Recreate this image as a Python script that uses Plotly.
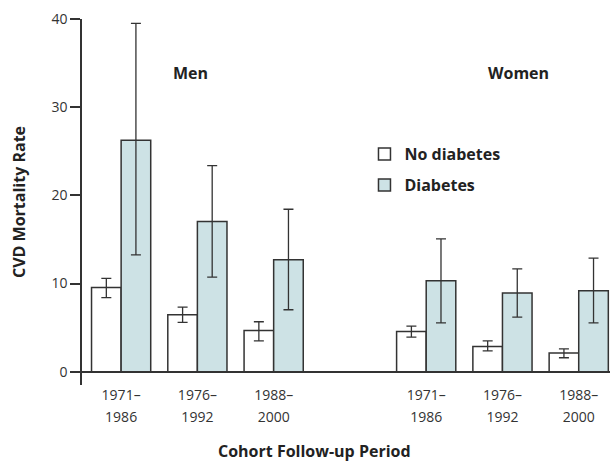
import plotly.graph_objects as go

# ---- data ----
categories = ["Men 1971", "Men 1976", "Men 1988", " ", "Women 1971", "Women 1976", "Women 1988"]
bar_categories = ["Men 1971", "Men 1976", "Men 1988", "Women 1971", "Women 1976", "Women 1988"]
tick_line1 = ["1971–", "1976–", "1988–", "", "1971–", "1976–", "1988–"]
tick_line2 = ["1986", "1992", "2000", "", "1986", "1992", "2000"]

no_diab = [9.55, 6.46, 4.68, 4.57, 2.87, 2.12]
no_diab_hi = [10.6, 7.33, 5.67, 5.18, 3.51, 2.60]
no_diab_lo = [8.4, 5.59, 3.51, 3.93, 2.38, 1.59]

diab = [26.25, 17.03, 12.69, 10.31, 8.92, 9.18]
diab_hi = [39.5, 23.38, 18.43, 15.07, 11.67, 12.88]
diab_lo = [13.26, 10.73, 7.03, 5.55, 6.20, 5.55]

y_ticks = [0, 10, 20, 30, 40]

INK = "#333333"
FONT = "Open Sans"
BOLD = dict(family=FONT, size=16, color="#222222", weight="bold")

def err(v, hi, lo):
    return dict(type="data", symmetric=False,
                array=[h - x for h, x in zip(hi, v)],
                arrayminus=[x - l for l, x in zip(lo, v)],
                color=INK, thickness=1.3, width=5)

fig = go.Figure()
fig.add_trace(go.Bar(
    x=bar_categories, y=no_diab, name="No diabetes", legendgroup="a",
    marker=dict(color="white", line=dict(color=INK, width=1.5)),
    error_y=err(no_diab, no_diab_hi, no_diab_lo)))
fig.add_trace(go.Bar(
    x=bar_categories, y=diab, name="Diabetes", legendgroup="b",
    marker=dict(color="#cde2e5", line=dict(color=INK, width=1.5)),
    error_y=err(diab, diab_hi, diab_lo)))
# helper invisible trace to carry the second line of tick labels
fig.add_trace(go.Scatter(x=categories, y=[0] * len(categories), xaxis="x2",
                         mode="markers", marker=dict(opacity=0),
                         showlegend=False, hoverinfo="skip"))

fig.update_layout(
    width=610, height=461,
    margin=dict(l=82, r=0, t=19, b=76),
    paper_bgcolor="white", plot_bgcolor="white",
    barmode="group", bargap=0.224, bargroupgap=0,
    font=dict(family=FONT, size=14, color=INK),
    showlegend=True,
    legend=dict(x=0.535, y=0.677, xanchor="left", yanchor="top",
                traceorder="grouped", tracegroupgap=7,
                font=BOLD, bgcolor="rgba(0,0,0,0)", itemwidth=30),
    xaxis=dict(type="category", categoryorder="array", categoryarray=categories,
               range=[-0.513, 6.41], showline=False, ticks="", showgrid=False,
               zeroline=False, tickmode="array", tickvals=categories,
               ticktext=tick_line1, ticklabelstandoff=0,
               tickfont=dict(family=FONT, size=14, color=INK)),
    xaxis2=dict(type="category", categoryorder="array", categoryarray=categories,
                overlaying="x", matches="x", side="bottom", anchor="y",
                showline=False, ticks="", showgrid=False, zeroline=False,
                tickmode="array", tickvals=categories, ticktext=tick_line2,
                ticklabelstandoff=22,
                tickfont=dict(family=FONT, size=14, color=INK)),
    yaxis=dict(range=[-1.5, 40], tickmode="array", tickvals=y_ticks,
               showline=True, linecolor=INK, linewidth=1.5,
               ticks="outside", ticklen=10, tickcolor=INK, tickwidth=1.5,
               showgrid=False, zeroline=True, zerolinecolor=INK, zerolinewidth=1.5,
               tickfont=dict(family=FONT, size=14, color=INK),
               title=dict(text="CVD Mortality Rate", standoff=22, font=BOLD)),
    annotations=[
        dict(text="Cohort Follow-up Period", xref="paper", yref="paper",
             x=0.441, y=-0.18, xanchor="center", yanchor="middle", showarrow=False,
             font=BOLD),
        dict(text="Men", xref="x", yref="paper", x="Men 1976", xshift=-7,
             y=0.853, xanchor="center", yanchor="middle", showarrow=False,
             font=BOLD),
        dict(text="Women", xref="x", yref="paper", x="Women 1976", xshift=16,
             y=0.853, xanchor="center", yanchor="middle", showarrow=False,
             font=BOLD),
    ],
)

fig.write_html("out.html", config={"displayModeBar": False},
               post_script="document.body.style.margin='0';")
